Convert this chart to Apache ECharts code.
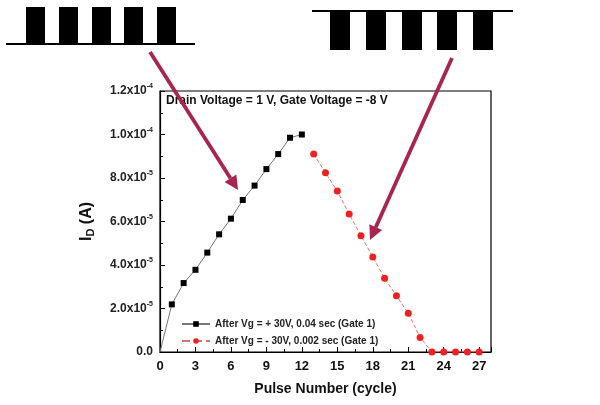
<!DOCTYPE html>
<html><head><meta charset="utf-8">
<script src="https://cdn.jsdelivr.net/npm/echarts@6/dist/echarts.min.js"></script>
<style>html,body{margin:0;padding:0;background:#fff}#c{width:600px;height:405px}</style>
</head><body><div id="c"></div>
<script>
// Data
const pulsesPos = [0,1,2,3,4,5,6,7,8,9,10,11,12];
const currentPos = [0, 2.19e-5, 3.17e-5, 3.78e-5, 4.57e-5, 5.41e-5, 6.13e-5, 6.99e-5, 7.65e-5, 8.41e-5, 9.1e-5, 9.85e-5, 1.0e-4];
const pulsesNeg = [13,14,15,16,17,18,19,20,21,22,23,24,25,26,27];
const currentNeg = [9.1e-5, 8.24e-5, 7.4e-5, 6.34e-5, 5.35e-5, 4.37e-5, 3.39e-5, 2.59e-5, 1.78e-5, 6.7e-6, 0, 0, 0, 0, 0];
const yTickMant = ['0.0','2.0','4.0','6.0','8.0','1.0','1.2'];
const yTickExp  = ['', '-5','-5','-5','-5','-4','-4'];
const seriesNames = ['After Vg = + 30V, 0.04 sec (Gate 1)', 'After Vg = - 30V, 0.002 sec (Gate 1)'];

const F = 'Liberation Sans, Arial, sans-serif';
const chart = echarts.init(document.getElementById('c'));

function pulseTrain(x0, x1, yBase, yPeak, starts, w) {
  const g = [{type:'line', shape:{x1:x0, y1:yBase, x2:x1, y2:yBase}, style:{stroke:'#000', lineWidth:2}}];
  starts.forEach(s => {
    const top = Math.min(yBase, yPeak), h = Math.abs(yPeak - yBase);
    g.push({type:'rect', shape:{x:s, y:top, width:w, height:h}, style:{fill:'#000'}});
  });
  return g;
}
function arrow(x1, y1, x2, y2, color) {
  const ang = Math.atan2(y2 - y1, x2 - x1), L = 14, W = 7;
  const bx = x2 - L * Math.cos(ang), by = y2 - L * Math.sin(ang);
  const px = -Math.sin(ang) * W, py = Math.cos(ang) * W;
  return [
    {type:'line', shape:{x1, y1, x2:bx, y2:by}, style:{stroke:color, lineWidth:3.8}, z:50},
    {type:'polygon', shape:{points:[[x2,y2],[bx+px,by+py],[bx-px,by-py]]}, style:{fill:color}, z:50}
  ];
}
const arrowColor = '#a8264e';
const graphics = [].concat(
  pulseTrain(6, 195, 44, 7, [26,59,92,124,157], 19),
  pulseTrain(312, 513, 11, 50, [330,366,402,437,473], 20),
  arrow(150, 52, 238, 190, arrowColor),
  arrow(452, 58, 370, 240, arrowColor),
  [{type:'text', left:166, top:95, style:{text:'Drain Voltage = 1 V, Gate Voltage = -8 V', font:'bold 12px ' + F, fill:'#111'}, z:40}]
);

chart.setOption({
  animation:false,
  grid:{left:160, right:109, top:91, bottom:53, show:true, borderColor:'#000', borderWidth:1.2},
  legend:{
    orient:'vertical', left:176, top:314, itemGap:7, itemWidth:28, itemHeight:7,
    textStyle:{fontFamily:F, fontSize:10, fontWeight:'bold', color:'#222'},
    data:seriesNames
  },
  xAxis:{
    type:'value', min:0, max:28, interval:3,
    name:'Pulse Number (cycle)', nameLocation:'middle', nameGap:30,
    nameTextStyle:{fontFamily:F, fontSize:14, fontWeight:'bold', color:'#111'},
    axisLine:{lineStyle:{color:'#000', width:1.2}},
    axisTick:{inside:true, length:5, lineStyle:{color:'#000'}},
    minorTick:{show:true, splitNumber:2, length:3, lineStyle:{color:'#000'}},
    splitLine:{show:false},
    axisLabel:{fontFamily:F, fontSize:13, fontWeight:'bold', color:'#111', margin:8, showMaxLabel:false}
  },
  yAxis:{
    type:'value', min:0, max:1.2e-4, interval:2e-5,
    name:'{i|I}{s|D}{i| (A)}', nameLocation:'middle', nameGap:64,
    nameTextStyle:{rich:{i:{fontFamily:F, fontSize:16, fontWeight:'bold', color:'#111'}, s:{fontFamily:F, fontSize:11, fontWeight:'bold', color:'#111', verticalAlign:'bottom', padding:[8,0,0,0]}}},
    axisLine:{lineStyle:{color:'#000', width:1.2}},
    axisTick:{inside:true, length:5, lineStyle:{color:'#000'}},
    minorTick:{show:true, splitNumber:2, length:3, lineStyle:{color:'#000'}},
    splitLine:{show:false},
    axisLabel:{
      margin:7,
      formatter:function(v){
        const i = Math.round(v / 2e-5);
        if (!yTickExp[i]) return '{m|' + yTickMant[i] + '}';
        return '{m|' + yTickMant[i] + 'x10}{e|' + yTickExp[i] + '}';
      },
      rich:{m:{fontFamily:F, fontSize:12, fontWeight:'bold', color:'#222'}, e:{fontFamily:F, fontSize:7, fontWeight:'bold', color:'#222', verticalAlign:'top', padding:[0,0,9,0]}}
    }
  },
  graphic:graphics,
  series:[
    {name:seriesNames[0], type:'line',
     data:pulsesPos.map((x,i)=> i === 0 ? {value:[x,currentPos[i]], symbolSize:0} : [x,currentPos[i]]),
     symbol:'rect', symbolSize:6, itemStyle:{color:'#000'}, lineStyle:{color:'#777', width:1}, z:5},
    {name:seriesNames[1], type:'line', data:pulsesNeg.map((x,i)=>[x,currentNeg[i]]),
     symbol:'circle', symbolSize:7, itemStyle:{color:'#f02020'}, lineStyle:{color:'#e07070', width:1, type:'dashed'}, z:5}
  ]
});
</script></body></html>
